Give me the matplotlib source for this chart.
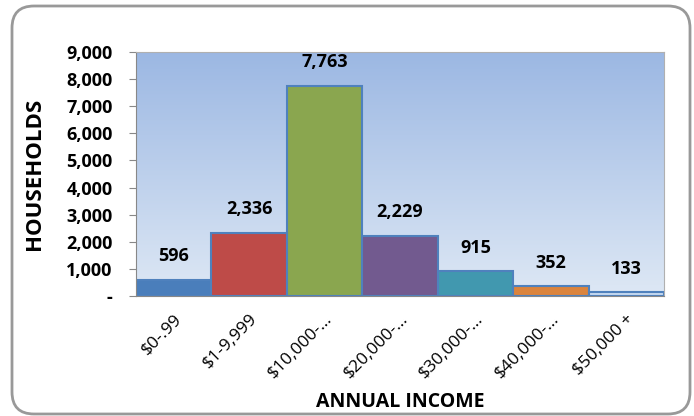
import numpy as np
import matplotlib.pyplot as plt
from matplotlib.patches import FancyBboxPatch

categories = ['$0-.99', '$1-9,999', '$10,000-…', '$20,000-…', '$30,000-…', '$40,000-…', '$50,000 +']
households = [596, 2336, 7763, 2229, 915, 352, 133]
bar_colors = ['#4a7ebb', '#be4b48', '#8aa64f', '#725a8f', '#4198af', '#db843d', '#c6d9f1']
yticks = [0, 1000, 2000, 3000, 4000, 5000, 6000, 7000, 8000, 9000]

plt.rcParams['font.family'] = ['Open Sans', 'DejaVu Sans']

fig = plt.figure(figsize=(6.94, 4.16), dpi=100)
# rounded outer frame (in inches)
border = FancyBboxPatch((0.12, 0.02), 6.78, 4.08,
                        boxstyle='round,pad=0,rounding_size=0.22',
                        transform=fig.dpi_scale_trans, facecolor='white',
                        edgecolor='#999999', linewidth=2, zorder=-1)
fig.patches.append(border)

ax = fig.add_axes([136/694, 1 - 296/416, 528/694, 244/416])
ax.set_xlim(-0.5, len(categories) - 0.5)
ax.set_ylim(0, 9000)

# gradient background
grad = np.linspace(0, 1, 256).reshape(-1, 1)
top = np.array([0.61, 0.72, 0.89])
bot = np.array([0.87, 0.91, 0.96])
img = bot + (top - bot) * grad
ax.imshow(img.reshape(256, 1, 3), extent=[-0.5, len(categories) - 0.5, 0, 9000],
          aspect='auto', origin='lower', zorder=0)

x = np.arange(len(categories))
bars = ax.bar(x, households, width=1.0, color=bar_colors, edgecolor='#4f81bd',
              linewidth=1.5, zorder=2)
for xi, v in zip(x, households):
    ax.annotate(f'{v:,}', (xi, v), xytext=(0, 17), textcoords='offset points',
                ha='center', va='center', fontsize=13, fontweight='bold')

ax.set_yticks(yticks)
ax.set_yticklabels(['-'] + [f'{t:,}' for t in yticks[1:]], fontweight='bold', fontsize=13)
ax.set_xticks(x)
ax.set_xticklabels(categories, rotation=45, ha='right', rotation_mode='anchor', fontsize=12.5)
ax.tick_params(axis='x', length=0, pad=11)
ax.tick_params(axis='y', length=5, color='#888888', pad=12)
for s in ['top', 'right']:
    ax.spines[s].set_color('#b0b0b0')
ax.spines['left'].set_color('#888888')
ax.spines['bottom'].set_color('#888888')

ax.set_ylabel('HOUSEHOLDS', fontweight='bold', fontsize=16)
ax.yaxis.set_label_coords(-0.172, 0.5)
ax.set_xlabel('ANNUAL INCOME', fontweight='bold', fontsize=14)
ax.xaxis.set_label_coords(0.5, -0.395)

fig.savefig('out.png', dpi=100)
